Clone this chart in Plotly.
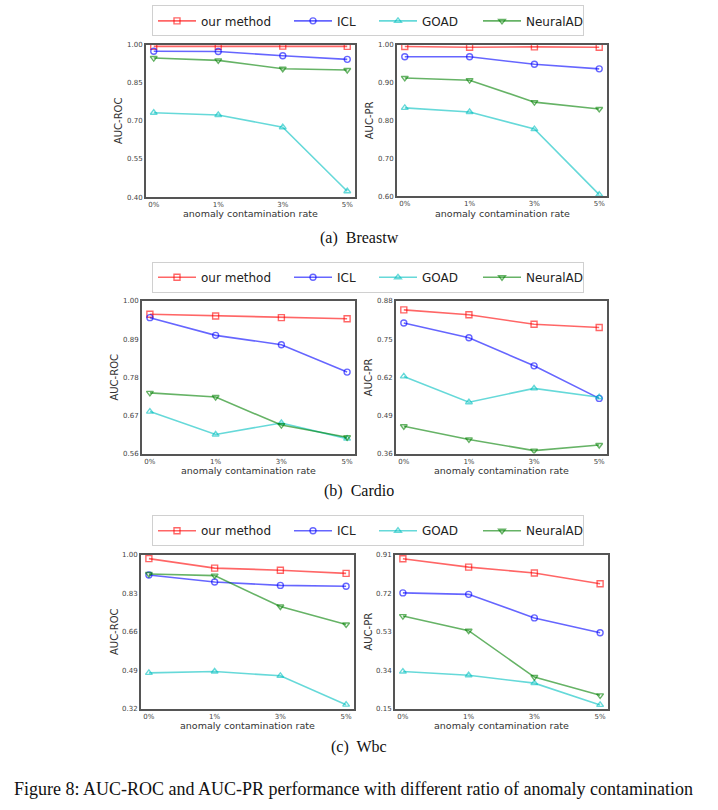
import plotly.graph_objects as go

W, H = 718, 810

x_labels = ["0%", "1%", "3%", "5%"]
methods = ["our method", "ICL", "GOAD", "NeuralAD"]

# Breastw
breastw_roc = {
    "our method": [0.993, 0.993, 0.994, 0.993],
    "ICL": [0.974, 0.973, 0.956, 0.942],
    "GOAD": [0.732, 0.723, 0.675, 0.423],
    "NeuralAD": [0.947, 0.938, 0.905, 0.900],
}
breastw_pr = {
    "our method": [0.995, 0.993, 0.994, 0.993],
    "ICL": [0.968, 0.968, 0.948, 0.936],
    "GOAD": [0.833, 0.822, 0.777, 0.604],
    "NeuralAD": [0.912, 0.906, 0.848, 0.830],
}
# Cardio
cardio_roc = {
    "our method": [0.962, 0.957, 0.952, 0.949],
    "ICL": [0.952, 0.901, 0.874, 0.795],
    "GOAD": [0.681, 0.615, 0.648, 0.603],
    "NeuralAD": [0.735, 0.723, 0.642, 0.607],
}
cardio_pr = {
    "our method": [0.850, 0.833, 0.801, 0.790],
    "ICL": [0.805, 0.755, 0.659, 0.548],
    "GOAD": [0.623, 0.535, 0.582, 0.552],
    "NeuralAD": [0.453, 0.408, 0.370, 0.389],
}
# Wbc
wbc_roc = {
    "our method": [0.982, 0.940, 0.931, 0.917],
    "ICL": [0.910, 0.879, 0.864, 0.860],
    "GOAD": [0.479, 0.485, 0.466, 0.339],
    "NeuralAD": [0.914, 0.907, 0.771, 0.692],
}
wbc_pr = {
    "our method": [0.889, 0.848, 0.819, 0.766],
    "ICL": [0.721, 0.714, 0.598, 0.525],
    "GOAD": [0.334, 0.316, 0.277, 0.170],
    "NeuralAD": [0.607, 0.535, 0.307, 0.217],
}

roc_ticks = {
    "a": [0.40, 0.55, 0.70, 0.85, 1.00],
    "b": [0.56, 0.67, 0.78, 0.89, 1.00],
    "c": [0.32, 0.49, 0.66, 0.83, 1.00],
}
pr_ticks = {
    "a": [0.60, 0.70, 0.80, 0.90, 1.00],
    "b": [0.36, 0.49, 0.62, 0.75, 0.88],
    "c": [0.15, 0.34, 0.53, 0.72, 0.91],
}
captions = ["(a)  Breastw", "(b)  Cardio", "(c)  Wbc"]
fig_caption = "Figure 8: AUC-ROC and AUC-PR performance with different ratio of anomaly contamination"

colors = {
    "our method": "rgba(255,0,0,0.6)",
    "ICL": "rgba(0,0,255,0.6)",
    "GOAD": "rgba(0,191,191,0.6)",
    "NeuralAD": "rgba(0,128,0,0.6)",
}
symbols = {
    "our method": "square-open",
    "ICL": "circle-open",
    "GOAD": "triangle-up-open",
    "NeuralAD": "triangle-down-open",
}
legend_widths = {"our method": 83, "ICL": 32, "GOAD": 51, "NeuralAD": 52}

# panel pixel boxes: (x0, x1, ytop, ybottom)
panels = [
    ("a", breastw_roc, breastw_pr, (146, 355, 41, 195), (397, 607, 41, 194), 17, 212, 236),
    ("b", cardio_roc, cardio_pr, (142, 355, 300, 454), (396, 607, 300, 454), 276, 471, 492),
    ("c", wbc_roc, wbc_pr, (141, 354, 556, 712), (395, 608, 556, 712), 532, 729, 750),
]

fig = go.Figure()
layout = dict(
    width=W, height=H, margin=dict(l=0, r=0, t=0, b=0),
    paper_bgcolor="white", plot_bgcolor="white",
    font=dict(family="DejaVu Sans", color="#333"),
    annotations=[],
)

axis_idx = 0
for pi, (key, roc, pr, boxL, boxR, leg_y, xt_y, cap_y) in enumerate(panels):
    legname = "legend" if pi == 0 else f"legend{pi+1}"
    for side, data, box, ticks, ytitle in [
        ("L", roc, boxL, roc_ticks[key], "AUC-ROC"),
        ("R", pr, boxR, pr_ticks[key], "AUC-PR"),
    ]:
        axis_idx += 1
        xa = "x" if axis_idx == 1 else f"x{axis_idx}"
        ya = "y" if axis_idx == 1 else f"y{axis_idx}"
        xkey = "xaxis" if axis_idx == 1 else f"xaxis{axis_idx}"
        ykey = "yaxis" if axis_idx == 1 else f"yaxis{axis_idx}"
        x0, x1, yt, yb = box
        for m in methods:
            fig.add_trace(go.Scatter(
                x=list(range(len(x_labels))), y=data[m], name=m,
                mode="lines+markers",
                line=dict(color=colors[m], width=1.6),
                marker=dict(symbol=symbols[m], size=6, color=colors[m],
                            line=dict(width=1.4, color=colors[m])),
                xaxis=xa, yaxis=ya,
                legend=legname, showlegend=(side == "L"),
                legendwidth=legend_widths[m],
            ))
        layout[xkey] = dict(
            domain=[x0 / W, x1 / W], anchor=ya,
            range=[-0.12, 3.12], tickmode="array",
            tickvals=list(range(len(x_labels))), ticktext=x_labels,
            showgrid=False, zeroline=False, showline=True, mirror=True,
            linecolor="#555", linewidth=2, ticks="",
            tickfont=dict(size=7, color="#444"),
        )
        layout[ykey] = dict(
            domain=[1 - yb / H, 1 - yt / H], anchor=xa,
            range=[ticks[0], ticks[-1]], tickmode="array",
            tickvals=ticks, ticktext=[f"{t:.2f}" for t in ticks],
            showgrid=False, zeroline=False, showline=True, mirror=True,
            linecolor="#555", linewidth=2, ticks="",
            tickfont=dict(size=7, color="#444"),
            title=dict(text=ytitle, font=dict(size=10, color="#333"), standoff=2),
        )
        # x-axis title
        layout["annotations"].append(dict(
            text="anomaly contamination rate", xref="paper", yref="paper",
            x=(x0 + x1) / 2 / W, y=1 - xt_y / H, xanchor="center", yanchor="middle",
            showarrow=False, font=dict(size=9.5, color="#333"),
        ))
    layout[legname] = dict(
        orientation="h", x=152 / W, y=1 - leg_y / H, xanchor="left", yanchor="middle",
        bgcolor="white", bordercolor="#d0d0d0", borderwidth=1,
        font=dict(size=12, color="#222"), itemwidth=38,
    )
    layout["annotations"].append(dict(
        text=captions[pi], xref="paper", yref="paper",
        x=359 / W, y=1 - cap_y / H, xanchor="center", yanchor="middle",
        showarrow=False, font=dict(family="Liberation Serif", size=16, color="#111"),
    ))

layout["annotations"].append(dict(
    text=fig_caption, xref="paper", yref="paper",
    x=12 / W, y=1 - 793 / H, xanchor="left", yanchor="middle",
    showarrow=False, font=dict(family="Liberation Serif", size=18, color="#111"),
))

fig.update_layout(**layout)
fig.write_html("out.html")
